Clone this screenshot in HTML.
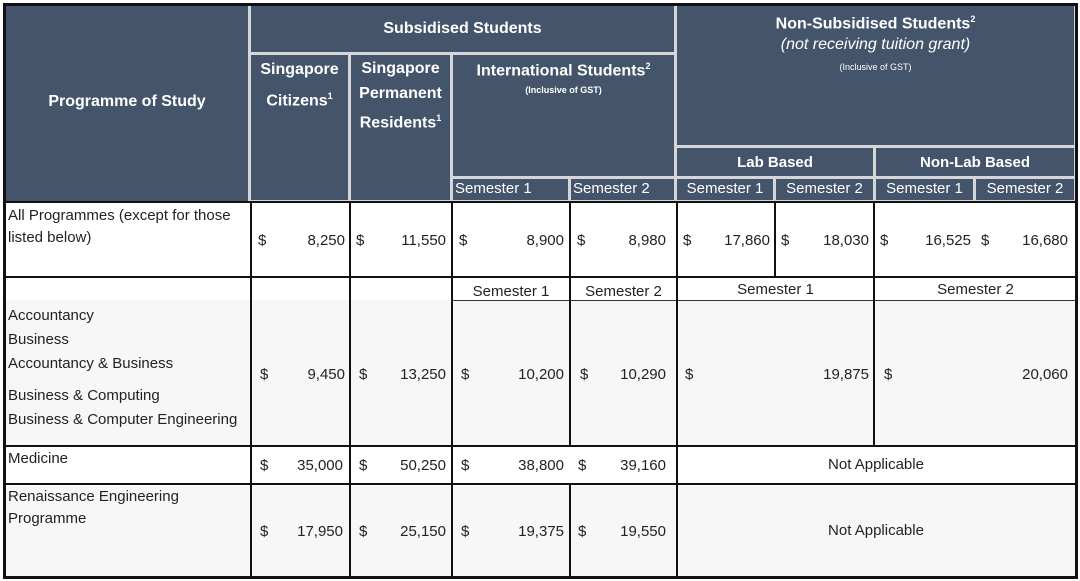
<!DOCTYPE html>
<html><head><meta charset="utf-8"><style>
body{margin:0;width:1080px;height:581px;background:#fff;position:relative;overflow:hidden;font-family:"Liberation Sans",sans-serif;color:#222}
div{position:absolute;box-sizing:border-box}
.h{background:#44546a;color:#fff;font-weight:bold;font-size:16px;text-align:center}
.s{background:#44546a;color:#fff;font-size:15px;text-align:center;line-height:20px}
.v{background:#111;width:2px}
.hl{background:#111;height:2px}
.t{font-size:15px}
.n{font-size:15px;text-align:right}
sup{font-size:9px}
</style></head><body>
<div style="left:3px;top:3px;width:1074px;height:200px;background:#d4d6d9"></div>
<div class="h" style="left:6px;top:6px;width:242px;height:195px;padding-top:87px">Programme of Study</div>
<div class="h" style="left:251px;top:6px;width:423px;height:46px;padding-top:14px">Subsidised Students</div>
<div class="h" style="left:251px;top:55px;width:97px;height:145px;padding-top:2px;line-height:26px">Singapore Citizens<sup>1</sup></div>
<div class="h" style="left:351px;top:55px;width:99px;height:145px;padding-top:1px;line-height:25px">Singapore Permanent Residents<sup>1</sup></div>
<div class="h" style="left:453px;top:55px;width:221px;height:121px;padding-top:6px">International Students<sup>2</sup><br><span style="font-size:9px;font-weight:bold">(Inclusive of GST)</span></div>
<div class="h" style="left:677px;top:6px;width:397px;height:139px;padding-top:3px;line-height:21px">Non-Subsidised Students<sup>2</sup><br><i style="font-weight:normal">(not receiving tuition grant)</i><br><span style="font-size:9px;font-weight:normal">(Inclusive of GST)</span></div>
<div class="h" style="left:677px;top:148px;width:196px;height:28px;padding-top:6px;font-size:15px">Lab Based</div>
<div class="h" style="left:876px;top:148px;width:198px;height:28px;padding-top:6px;font-size:15px">Non-Lab Based</div>
<div class="s" style="left:453px;top:179px;width:115px;height:21px;text-align:left;padding-left:2px">Semester 1</div>
<div class="s" style="left:571px;top:179px;width:103px;height:21px;text-align:left;padding-left:2px">Semester 2</div>
<div class="s" style="left:677px;top:179px;width:96px;height:21px">Semester 1</div>
<div class="s" style="left:776px;top:179px;width:97px;height:21px">Semester 2</div>
<div class="s" style="left:876px;top:179px;width:97px;height:21px">Semester 1</div>
<div class="s" style="left:976px;top:179px;width:98px;height:21px">Semester 2</div>
<div style="left:6px;top:300px;width:1069px;height:146px;background:#f7f7f7"></div>
<div style="left:6px;top:486px;width:1069px;height:91px;background:#f7f7f7"></div>
<div style="left:6px;top:279px;width:244px;height:21px;background:#fff"></div>
<div class="hl" style="left:6px;top:201px;width:1071px"></div>
<div class="hl" style="left:6px;top:276px;width:1071px"></div>
<div class="hl" style="left:6px;top:445px;width:1071px"></div>
<div class="hl" style="left:6px;top:483px;width:1071px"></div>
<div class="hl" style="left:452px;top:300px;width:625px;height:1px;background:#333"></div>
<div class="v" style="left:250px;top:202px;height:375px"></div>
<div class="v" style="left:349px;top:202px;height:375px"></div>
<div class="v" style="left:451px;top:202px;height:375px"></div>
<div class="v" style="left:569px;top:202px;height:244px"></div>
<div class="v" style="left:569px;top:484px;height:93px"></div>
<div class="v" style="left:676px;top:202px;height:375px"></div>
<div class="v" style="left:774px;top:202px;height:75px"></div>
<div class="v" style="left:873px;top:202px;height:244px"></div>
<div style="left:3px;top:3px;width:1075px;height:576px;border:3px solid #111"></div>
<div class="t" style="left:8px;top:205px;line-height:22px">All Programmes (except for those<br>listed below)</div>
<div class="t" style="left:258px;top:232px">$</div><div class="n" style="left:260px;top:232px;width:85px">8,250</div>
<div class="t" style="left:356px;top:232px">$</div><div class="n" style="left:360px;top:232px;width:86px">11,550</div>
<div class="t" style="left:459px;top:232px">$</div><div class="n" style="left:460px;top:232px;width:104px">8,900</div>
<div class="t" style="left:577px;top:232px">$</div><div class="n" style="left:580px;top:232px;width:86px">8,980</div>
<div class="t" style="left:683px;top:232px">$</div><div class="n" style="left:690px;top:232px;width:80px">17,860</div>
<div class="t" style="left:781px;top:232px">$</div><div class="n" style="left:790px;top:232px;width:79px">18,030</div>
<div class="t" style="left:880px;top:232px">$</div><div class="n" style="left:890px;top:232px;width:81px">16,525</div>
<div class="t" style="left:981px;top:232px">$</div><div class="n" style="left:990px;top:232px;width:78px">16,680</div>
<div class="t" style="left:453px;top:283px;width:116px;text-align:center">Semester 1</div>
<div class="t" style="left:571px;top:283px;width:105px;text-align:center">Semester 2</div>
<div class="t" style="left:677px;top:281px;width:197px;text-align:center">Semester 1</div>
<div class="t" style="left:876px;top:281px;width:199px;text-align:center">Semester 2</div>
<div class="t" style="left:8px;top:304px;line-height:24px">Accountancy<br>Business<br>Accountancy &amp; Business</div>
<div class="t" style="left:8px;top:384px;line-height:24px">Business &amp; Computing<br>Business &amp; Computer Engineering</div>
<div class="t" style="left:260px;top:366px">$</div><div class="n" style="left:260px;top:366px;width:85px">9,450</div>
<div class="t" style="left:359px;top:366px">$</div><div class="n" style="left:360px;top:366px;width:86px">13,250</div>
<div class="t" style="left:461px;top:366px">$</div><div class="n" style="left:460px;top:366px;width:104px">10,200</div>
<div class="t" style="left:580px;top:366px">$</div><div class="n" style="left:580px;top:366px;width:86px">10,290</div>
<div class="t" style="left:685px;top:366px">$</div><div class="n" style="left:690px;top:366px;width:179px">19,875</div>
<div class="t" style="left:884px;top:366px">$</div><div class="n" style="left:890px;top:366px;width:178px">20,060</div>
<div class="t" style="left:8px;top:450px">Medicine</div>
<div class="t" style="left:260px;top:457px">$</div><div class="n" style="left:260px;top:457px;width:83px">35,000</div>
<div class="t" style="left:359px;top:457px">$</div><div class="n" style="left:360px;top:457px;width:86px">50,250</div>
<div class="t" style="left:461px;top:457px">$</div><div class="n" style="left:460px;top:457px;width:104px">38,800</div>
<div class="t" style="left:578px;top:457px">$</div><div class="n" style="left:580px;top:457px;width:86px">39,160</div>
<div class="t" style="left:677px;top:456px;width:398px;text-align:center">Not Applicable</div>
<div class="t" style="left:8px;top:486px;line-height:22px">Renaissance Engineering<br>Programme</div>
<div class="t" style="left:260px;top:523px">$</div><div class="n" style="left:260px;top:523px;width:83px">17,950</div>
<div class="t" style="left:359px;top:523px">$</div><div class="n" style="left:360px;top:523px;width:86px">25,150</div>
<div class="t" style="left:461px;top:523px">$</div><div class="n" style="left:460px;top:523px;width:104px">19,375</div>
<div class="t" style="left:578px;top:523px">$</div><div class="n" style="left:580px;top:523px;width:86px">19,550</div>
<div class="t" style="left:677px;top:522px;width:398px;text-align:center">Not Applicable</div>
</body></html>
